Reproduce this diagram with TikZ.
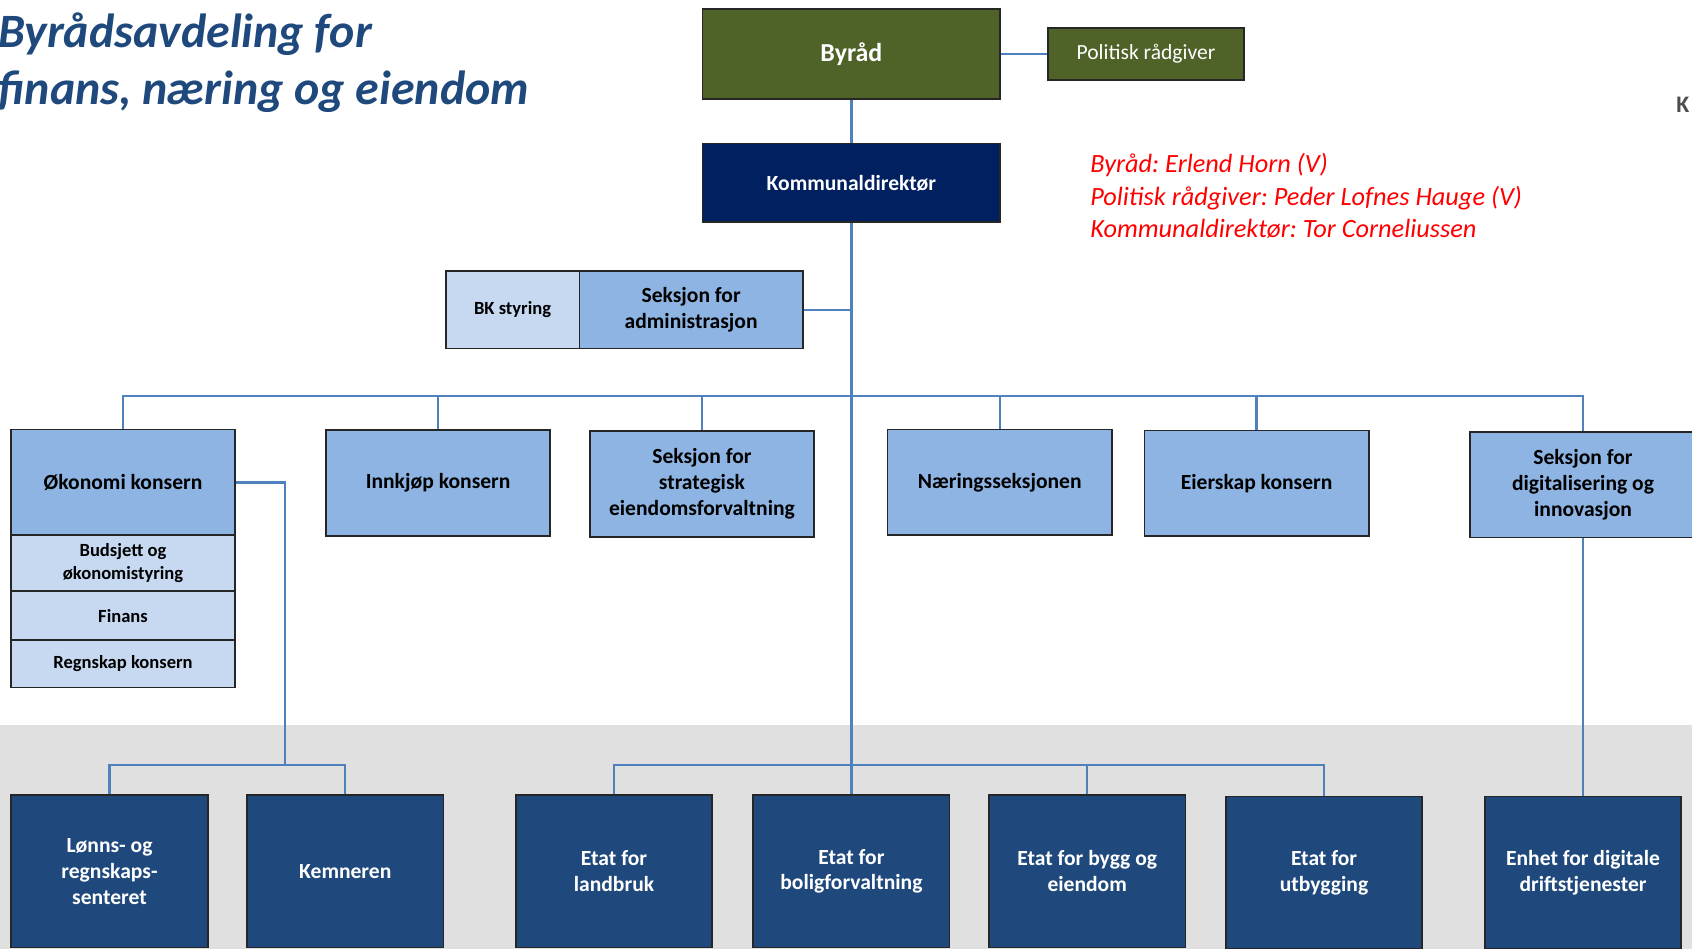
\documentclass[tikz,border=0pt]{standalone}
\usepackage{fontspec}
\setmainfont{Carlito}
\frenchspacing
\definecolor{olivegr}{HTML}{4F6228}
\definecolor{navyk}{HTML}{002060}
\definecolor{midblue}{HTML}{8DB4E2}
\definecolor{lightbl}{HTML}{C6D9F1}
\definecolor{darkbl}{HTML}{1F497D}
\definecolor{linkbl}{HTML}{4F81BD}
\definecolor{bandgray}{HTML}{E0E0E0}
\definecolor{titlebl}{HTML}{1F497D}
\definecolor{fraggray}{HTML}{4D4D4D}
\tikzset{
  lnk/.style={draw=linkbl, line width=1.1pt},
  basebox/.style={draw=black!85, line width=0.8pt, inner sep=1pt, align=center,
    font=\bfseries\fontsize{10pt}{12pt}\selectfont},
  olivebox/.style={basebox, fill=olivegr, text=white},
  navybox/.style={basebox, fill=navyk, text=white, minimum width=138pt, minimum height=36.5pt},
  midbox/.style={basebox, fill=midblue, text=black, minimum width=104pt, minimum height=49pt},
  subbox/.style={basebox, fill=lightbl, text=black, minimum width=104pt,
    font=\bfseries\fontsize{8.6pt}{10.5pt}\selectfont},
  lowbox/.style={basebox, fill=darkbl, text=white, minimum width=91pt, minimum height=70.5pt},
}
\begin{document}
\begin{tikzpicture}[x=0.5pt,y=-0.5pt]
\useasboundingbox (0,0) rectangle (1568,879);
\clip (0,0) rectangle (1568,879);
% grey band
\fill[bandgray] (0,672) rectangle (1568,879);
% title
\node[anchor=north west, align=left, inner sep=0pt, text=titlebl,
  font=\bfseries\itshape\fontsize{22.2pt}{26.8pt}\selectfont] (title) at (-2,11)
  {Byrådsavdeling for\\finans, næring og eiendom};
% red info
\node[anchor=west, align=left, inner sep=0pt, text=red,
  font=\itshape\fontsize{12.2pt}{15pt}\selectfont] (info) at (1010,181.5)
  {Byråd: Erlend Horn (V)\\Politisk rådgiver: Peder Lofnes Hauge (V)\\Kommunaldirektør: Tor Corneliussen};
% fragment at right edge
\node[anchor=west, inner sep=0pt, text=fraggray, font=\bfseries\fontsize{11pt}{13pt}\selectfont] (frag) at (1553,97) {K};
% top
\node[olivebox, minimum width=138pt, minimum height=42pt,
  font=\bfseries\fontsize{12pt}{14pt}\selectfont] (byrad) at (789,50) {Byråd};
\node[olivebox, minimum width=91pt, minimum height=24pt,
  font=\fontsize{10pt}{12pt}\selectfont] (polit) at (1062,50) {Politisk rådgiver};
\node[navybox] (kdir) at (789,169.5) {Kommunaldirektør};
\node[basebox, fill=lightbl, minimum width=62pt, minimum height=36pt,
  font=\bfseries\fontsize{8.6pt}{10.5pt}\selectfont] (bk) at (475,287) {BK styring};
\node[basebox, fill=midblue, minimum width=103.5pt, minimum height=36pt] (adm) at (640.5,287) {Seksjon for\\administrasjon};
% second row
\node[midbox] (okon) at (114,447) {Økonomi konsern};
\node[subbox, minimum height=26pt] (bud) at (114,522) {Budsjett og\\økonomistyring};
\node[subbox, minimum height=22.5pt] (fin) at (114,570.5) {Finans};
\node[subbox, minimum height=22pt] (regn) at (114,615) {Regnskap konsern};
\node[midbox] (innk) at (406,447.5) {Innkjøp konsern};
\node[midbox] (strat) at (650.5,448.5) {Seksjon for\\strategisk\\eiendomsforvaltning};
\node[midbox] (naer) at (926.5,447) {Næringsseksjonen};
\node[midbox] (eier) at (1164.5,448) {Eierskap konsern};
\node[midbox, minimum width=105pt] (digi) at (1467,449) {Seksjon for\\digitalisering og\\innovasjon};
% bottom row
\node[lowbox] (lonn) at (101.5,807.5) {Lønns- og\\regnskaps-\\senteret};
\node[lowbox] (kem) at (320,807.5) {Kemneren};
\node[lowbox] (land) at (569,807.5) {Etat for\\landbruk};
\node[lowbox] (bolig) at (789,807.5) {Etat for\\boligforvaltning};
\node[lowbox] (bygg) at (1007.5,807.5) {Etat for bygg og\\eiendom};
\node[lowbox] (utb) at (1227,808.5) {Etat for\\utbygging};
\node[lowbox] (enh) at (1467,808.5) {Enhet for digitale\\driftstjenester};
% junction coordinates
\coordinate (bus) at (789,367);
\coordinate (okj) at (264,709);
\coordinate (bb) at (789,709);
% connectors
\draw[lnk] (byrad.east) -- (polit.west);
\draw[lnk] (byrad.south) -- (kdir.north);
\draw[lnk] (kdir.south) -- (bolig.north);
\draw[lnk] (adm.east) -- (kdir.south |- adm.east);
\draw[lnk] (okon.north) |- (bus) -| (digi.north);
\draw[lnk] (innk.north) -- (innk.north |- bus);
\draw[lnk] (strat.north) -- (strat.north |- bus);
\draw[lnk] (naer.north) -- (naer.north |- bus);
\draw[lnk] (eier.north) -- (eier.north |- bus);
\draw[lnk] (okon.east) -| (okj);
\draw[lnk] (lonn.north) |- (okj) -| (kem.north);
\draw[lnk] (land.north) |- (bb) -| (utb.north);
\draw[lnk] (bygg.north) -- (bygg.north |- bb);
\draw[lnk] (digi.south) -- (enh.north);
\end{tikzpicture}
\end{document}
